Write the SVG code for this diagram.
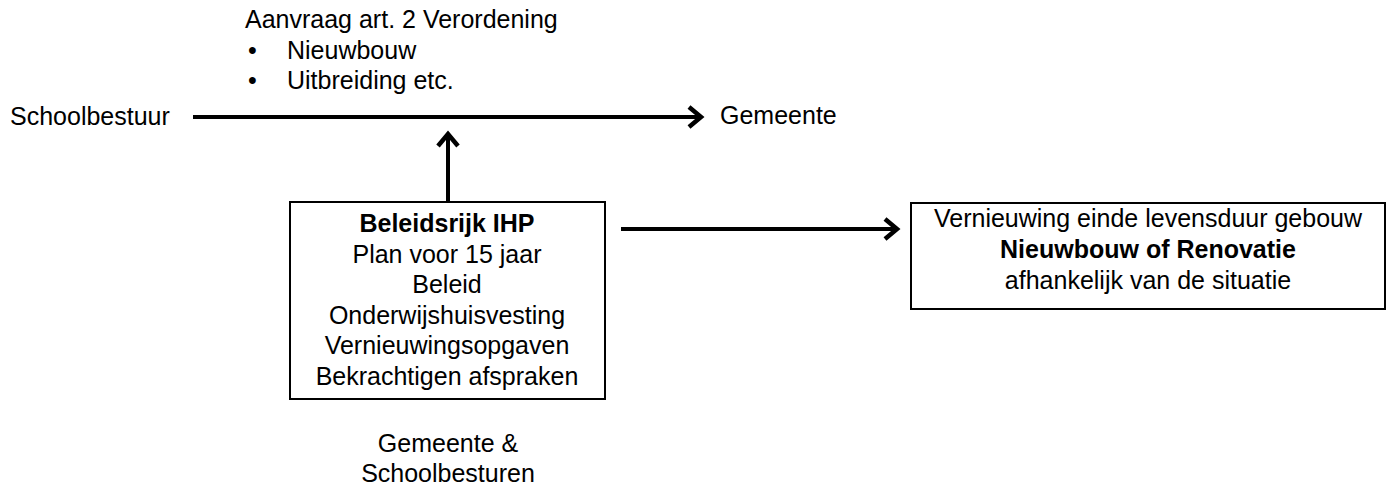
<svg xmlns="http://www.w3.org/2000/svg" width="1391" height="486" viewBox="0 0 1391 486">
<style>
text{font-family:"Liberation Sans",Arial,sans-serif;font-size:25px;fill:#000}
.c{text-anchor:middle}
.b{font-weight:bold}
.box{fill:#fff;stroke:#000;stroke-width:2}
.ln{stroke:#000;stroke-width:4;fill:none}
</style>
<defs>
<marker id="ah" markerUnits="userSpaceOnUse" markerWidth="30" markerHeight="30" viewBox="-20 -15 30 30" refX="0" refY="0" orient="auto">
<path d="M-13,-10 L-1,0 L-13,10" fill="none" stroke="#000" stroke-width="4.5" stroke-linejoin="miter"/>
</marker>
</defs>
<rect width="1391" height="486" fill="#fff"/>
<g id="connectors">
<line class="ln" x1="193" y1="117" x2="702" y2="117" marker-end="url(#ah)"/>
<line class="ln" x1="448" y1="202" x2="448" y2="133" marker-end="url(#ah)"/>
<line class="ln" x1="621" y1="229" x2="898" y2="229" marker-end="url(#ah)"/>
</g>
<g id="schoolbestuur"><text x="10" y="125">Schoolbestuur</text></g>
<g id="gemeente"><text x="720" y="124">Gemeente</text></g>
<g id="aanvraag">
<text x="245" y="28">Aanvraag art. 2 Verordening</text>
<text x="248" y="59">•</text><text x="287" y="59">Nieuwbouw</text>
<text x="248" y="89">•</text><text x="287" y="89">Uitbreiding etc.</text>
</g>
<g id="ihp">
<rect class="box" x="290" y="202" width="315" height="197"/>
<text class="c b" x="447" y="232">Beleidsrijk IHP</text>
<text class="c" x="447" y="263">Plan voor 15 jaar</text>
<text class="c" x="447" y="293">Beleid</text>
<text class="c" x="447" y="324">Onderwijshuisvesting</text>
<text class="c" x="447" y="354">Vernieuwingsopgaven</text>
<text class="c" x="447" y="385">Bekrachtigen afspraken</text>
</g>
<g id="actoren">
<text class="c" x="448" y="452">Gemeente &amp;</text>
<text class="c" x="448" y="482">Schoolbesturen</text>
</g>
<g id="vernieuwing">
<rect class="box" x="911" y="203" width="474" height="106"/>
<text class="c" x="1148" y="227">Vernieuwing einde levensduur gebouw</text>
<text class="c b" x="1148" y="258">Nieuwbouw of Renovatie</text>
<text class="c" x="1148" y="289">afhankelijk van de situatie</text>
</g>
</svg>
